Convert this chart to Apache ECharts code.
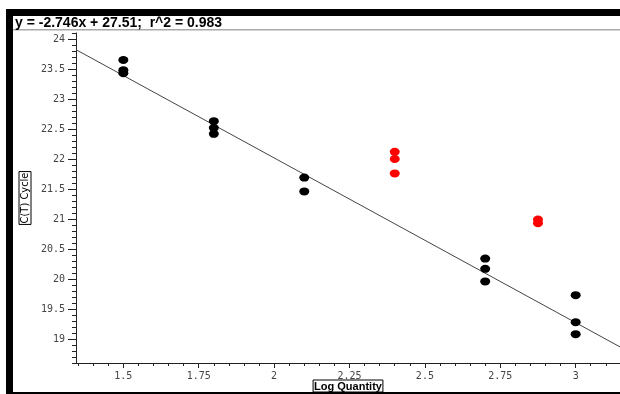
<!DOCTYPE html>
<html>
<head>
<meta charset="utf-8">
<style>
  html, body { margin: 0; padding: 0; background: #fff; }
  #chart { width: 620px; height: 394px; }
</style>
<script src="https://cdn.jsdelivr.net/npm/echarts@6/dist/echarts.min.js"></script>
</head>
<body>
<div id="chart"></div>
<script>
// Standard curve replicates: [log quantity, C(T) cycle]
const standards = [
  [1.5, 23.65], [1.5, 23.48], [1.5, 23.43],
  [1.8, 22.63], [1.8, 22.52], [1.8, 22.42],
  [2.1, 21.69], [2.1, 21.46],
  [2.7, 20.34], [2.7, 20.17], [2.7, 19.96],
  [3.0, 19.73], [3.0, 19.28], [3.0, 19.08]
];
// Unknown samples
const unknowns = [
  [2.4, 22.12], [2.4, 22.0], [2.4, 21.76],
  [2.875, 20.99], [2.875, 20.93]
];
// Regression line: y = slope * x + intercept
const slope = -2.746;
const intercept = 27.51;
const r2 = 0.983;

// Axis ranges and tick values
const xRange = [1.343, 3.147];
const yRange = [18.6, 24.1];
const xMajor = [1.5, 1.75, 2, 2.25, 2.5, 2.75, 3];
const yMajor = [19, 19.5, 20, 20.5, 21, 21.5, 22, 22.5, 23, 23.5, 24];

function minorTicks(lo, hi, step, majors) {
  const out = [];
  const n0 = Math.ceil(lo / step - 1e-9), n1 = Math.floor(hi / step + 1e-9);
  for (let i = n0; i <= n1; i++) {
    const v = +(i * step).toFixed(4);
    if (!majors.some(m => Math.abs(m - v) < 1e-6)) out.push(v);
  }
  return out;
}
const xMinor = minorTicks(xRange[0], xRange[1], 0.05, xMajor);
const yMinor = minorTicks(yRange[0], yRange[1], 0.1, yMajor);

const fitLine = xRange.map(x => [x, slope * x + intercept]);

const tickFont = { fontFamily: 'DejaVu Sans Mono', fontSize: 10, color: '#444' };
const axisColor = '#222';

const chart = echarts.init(document.getElementById('chart'), null, { renderer: 'canvas' });
chart.setOption({
  animation: false,
  backgroundColor: '#fff',
  title: {
    text: 'y = ' + slope + 'x + ' + intercept + ';  r^2 = ' + r2,
    left: 15, top: 16, padding: 0,
    textStyle: { fontFamily: 'Liberation Sans', fontSize: 14, fontWeight: 'bold', color: '#000' }
  },
  grid: { left: 76, right: 0, top: 33, bottom: 31, containLabel: false, outerBoundsMode: 'none' },
  xAxis: [{
    type: 'value', min: xRange[0], max: xRange[1],
    name: 'Log Quantity', nameLocation: 'middle', nameGap: 17, nameMoveOverlap: false,
    nameTextStyle: {
      fontFamily: 'Liberation Sans', fontSize: 11, fontWeight: 'bold', color: '#000',
      borderColor: '#000', borderWidth: 1, padding: [1, 1, 0, 1]
    },
    axisLine: { show: true, onZero: false, lineStyle: { color: axisColor, width: 1 } },
    axisTick: { show: true, customValues: xMajor, length: 5, lineStyle: { color: axisColor } },
    axisLabel: { customValues: xMajor, margin: 8, ...tickFont },
    splitLine: { show: false }
  }, {
    type: 'value', min: xRange[0], max: xRange[1], position: 'bottom',
    axisLine: { show: false },
    axisTick: { show: true, customValues: xMinor, length: 3, lineStyle: { color: axisColor } },
    axisLabel: { show: false },
    splitLine: { show: false }
  }],
  yAxis: [{
    type: 'value', min: yRange[0], max: yRange[1],
    name: 'C(T) Cycle', nameLocation: 'middle', nameGap: 45, nameRotate: 90, nameMoveOverlap: false,
    nameTextStyle: {
      fontFamily: "'DejaVu Sans Condensed', 'Liberation Sans', sans-serif", fontSize: 11, color: '#000',
      borderColor: '#000', borderWidth: 1, padding: [1, 1, 0, 1]
    },
    axisLine: { show: true, onZero: false, lineStyle: { color: axisColor, width: 1 } },
    axisTick: { show: true, customValues: yMajor, length: 8, lineStyle: { color: axisColor } },
    axisLabel: { customValues: yMajor, margin: 11, ...tickFont },
    splitLine: { show: false }
  }, {
    type: 'value', min: yRange[0], max: yRange[1], position: 'left',
    axisLine: { show: false },
    axisTick: { show: true, customValues: yMinor, length: 4, lineStyle: { color: axisColor } },
    axisLabel: { show: false },
    splitLine: { show: false }
  }],
  series: [
    {
      type: 'line', data: fitLine, showSymbol: false, silent: true,
      lineStyle: { color: '#444', width: 1 }, z: 1
    },
    {
      type: 'scatter', data: standards, symbol: 'circle', symbolSize: [10, 8],
      itemStyle: { color: '#000', opacity: 1 }, z: 3
    },
    {
      type: 'scatter', data: unknowns, symbol: 'circle', symbolSize: [10, 8],
      itemStyle: { color: '#ff0000', opacity: 1 }, z: 3
    }
  ],
  graphic: [
    { type: 'rect', shape: { x: 6, y: 9, width: 614, height: 7 }, style: { fill: '#000' }, silent: true },
    { type: 'rect', shape: { x: 6, y: 9, width: 7, height: 385 }, style: { fill: '#000' }, silent: true },
    { type: 'rect', shape: { x: 13, y: 29, width: 607, height: 1.5 }, style: { fill: '#aaa' }, silent: true },
    { type: 'rect', shape: { x: 6, y: 392, width: 614, height: 2 }, style: { fill: '#000' }, silent: true }
  ]
});
</script>
</body>
</html>
